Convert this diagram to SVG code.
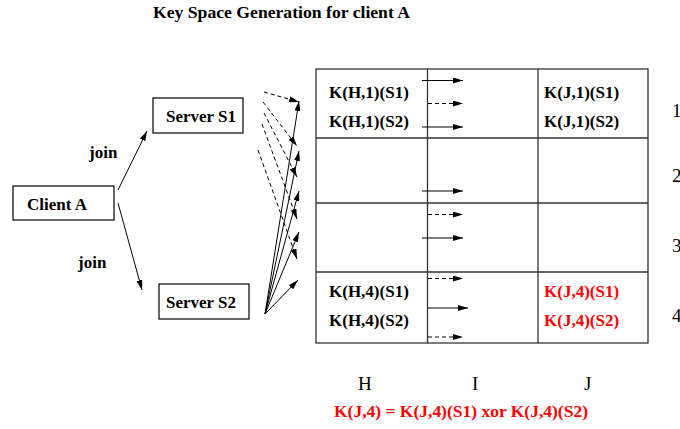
<svg xmlns="http://www.w3.org/2000/svg" width="680" height="429" viewBox="0 0 680 429">
<defs>
<marker id="ah" viewBox="0 0 10 6" refX="10" refY="3" markerWidth="10" markerHeight="6" markerUnits="userSpaceOnUse" orient="auto">
<path d="M0,0 L10,3 L0,6 z" fill="#000"/>
</marker>
</defs>
<style>
.b{font-family:"Liberation Serif","Times New Roman",serif;font-weight:bold;font-size:17px;fill:#000}
.r{font-family:"Liberation Serif","Times New Roman",serif;font-size:19px;fill:#000}
.red{fill:#ff0000}
.box{fill:#fff;stroke:#000;stroke-width:1.2}
.grid{fill:none;stroke:#333;stroke-width:1.3}
.s{fill:none;stroke:#000;stroke-width:1;marker-end:url(#ah)}
.d{fill:none;stroke:#000;stroke-width:1;stroke-dasharray:4,3;marker-end:url(#ah)}
</style>
<rect width="680" height="429" fill="#fff"/>
<text class="b" x="153" y="18" textLength="257" lengthAdjust="spacingAndGlyphs">Key Space Generation for client A</text>

<g id="clientA"><rect class="box" x="13" y="186" width="101" height="34"/><text class="b" x="27" y="210">Client A</text></g>
<g id="serverS1"><rect class="box" x="153" y="98" width="90" height="35"/><text class="b" x="166" y="122">Server S1</text></g>
<g id="serverS2"><rect class="box" x="159" y="284" width="90" height="35"/><text class="b" x="166" y="308">Server S2</text></g>

<g id="table">
<rect class="grid" x="316" y="69" width="332" height="274"/>
<line class="grid" x1="316" y1="138" x2="648" y2="138"/>
<line class="grid" x1="316" y1="203" x2="648" y2="203"/>
<line class="grid" x1="316" y1="272" x2="648" y2="272"/>
<line class="grid" x1="427.5" y1="69" x2="427.5" y2="343" stroke="#000"/>
<line class="grid" x1="538" y1="69" x2="538" y2="343"/>
<text class="b" x="329" y="98">K(H,1)(S1)</text>
<text class="b" x="329" y="127">K(H,1)(S2)</text>
<text class="b" x="544" y="98">K(J,1)(S1)</text>
<text class="b" x="544" y="127">K(J,1)(S2)</text>
<text class="b" x="329" y="297">K(H,4)(S1)</text>
<text class="b" x="329" y="326">K(H,4)(S2)</text>
<text class="b red" x="544" y="297">K(J,4)(S1)</text>
<text class="b red" x="544" y="326">K(J,4)(S2)</text>
</g>

<g id="labels">
<text class="r" x="672" y="117">1</text>
<text class="r" x="672" y="182">2</text>
<text class="r" x="672" y="252">3</text>
<text class="r" x="672" y="322">4</text>
<text class="r" x="358" y="390">H</text>
<text class="r" x="472" y="390">I</text>
<text class="r" x="584" y="390">J</text>
<text class="b red" x="334" y="417" textLength="254" lengthAdjust="spacingAndGlyphs">K(J,4) = K(J,4)(S1) xor K(J,4)(S2)</text>
<text class="b" x="89" y="158">join</text>
<text class="b" x="78" y="268">join</text>
</g>

<g id="connectors">
<line class="s" x1="118" y1="190" x2="147" y2="131"/>
<line class="s" x1="118" y1="203" x2="142" y2="290"/>

<line class="d" x1="264" y1="92" x2="299" y2="102"/>
<line class="d" x1="263" y1="102" x2="297" y2="146"/>
<line class="d" x1="264" y1="113" x2="297" y2="177"/>
<line class="d" x1="262" y1="124" x2="297" y2="219"/>
<line class="d" x1="258" y1="150" x2="297" y2="259"/>

<line class="s" x1="265" y1="314" x2="299" y2="101"/>
<line class="s" x1="265" y1="314" x2="299" y2="151"/>
<line class="s" x1="265" y1="314" x2="299" y2="191"/>
<line class="s" x1="265" y1="314" x2="299" y2="232"/>
<line class="s" x1="265" y1="314" x2="298" y2="280"/>

<line class="s" x1="422" y1="80.5" x2="463" y2="80.5"/>
<line class="d" x1="428" y1="103.5" x2="463" y2="103.5"/>
<line class="s" x1="422" y1="127" x2="463" y2="127"/>
<line class="s" x1="422" y1="191" x2="463" y2="191"/>
<line class="d" x1="428" y1="214.5" x2="463" y2="214.5"/>
<line class="s" x1="422" y1="238" x2="463" y2="238"/>
<line class="d" x1="428" y1="278.5" x2="463" y2="278.5"/>
<line class="s" x1="428" y1="308" x2="468" y2="308"/>
<line class="d" x1="428" y1="337" x2="463" y2="337"/>
</g>
</svg>
